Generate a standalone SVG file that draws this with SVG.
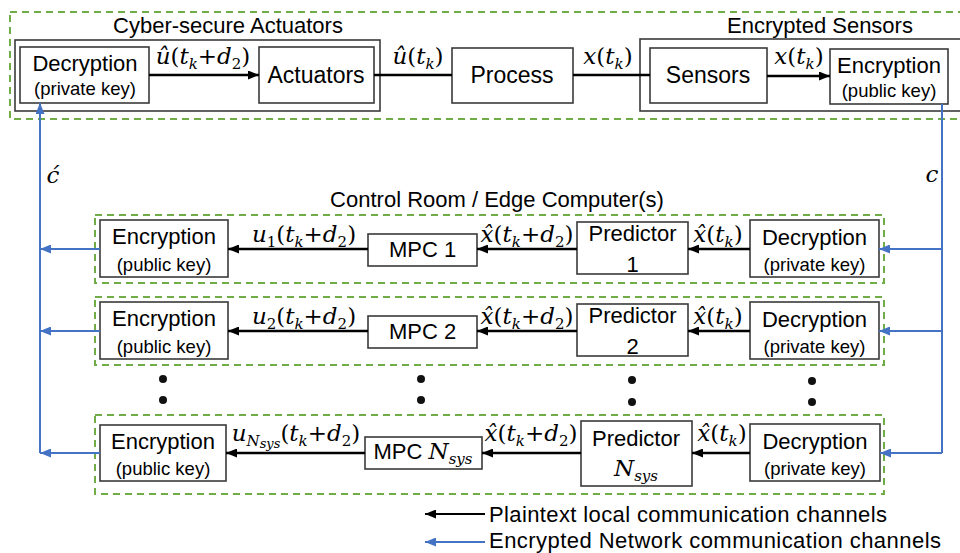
<svg xmlns="http://www.w3.org/2000/svg" width="960" height="553" viewBox="0 0 960 553">
  <style>
    .box { fill: #fff; stroke: #3a3a3a; stroke-width: 1.6; }
    .frame { fill: none; stroke: #3a3a3a; stroke-width: 1.6; }
    .grp { fill: none; stroke: #70AD47; stroke-width: 2; stroke-dasharray: 7 5; }
    .t { font-family: "Liberation Sans", Arial, sans-serif; font-size: 22px; fill: #000; text-anchor: middle; }
    .big { font-size: 23px; }
    .s { font-size: 18.5px; }
    .lg { font-family: "Liberation Sans", Arial, sans-serif; font-size: 22px; fill: #000; }
    .m { font-family: "DejaVu Serif", "Liberation Serif", serif; font-style: italic; font-size: 23px; fill: #000; text-anchor: middle; }
    .sub { font-size: 15px; }
    .n { font-style: normal; }
    .wire { stroke: #000; stroke-width: 2.5; fill: none; }
    .net { stroke: #4472C4; stroke-width: 2; fill: none; }
    .dot { fill: #111; }
  </style>
  <defs>
    <marker id="ab" viewBox="0 0 11 9" refX="11" refY="4.5" markerWidth="11" markerHeight="9" markerUnits="userSpaceOnUse" orient="auto">
      <path d="M0,0 L11,4.5 L0,9 z" fill="#000"/>
    </marker>
    <marker id="bb" viewBox="0 0 11 9" refX="11" refY="4.5" markerWidth="11" markerHeight="9" markerUnits="userSpaceOnUse" orient="auto">
      <path d="M0,0 L11,4.5 L0,9 z" fill="#4472C4"/>
    </marker>
  </defs>

  <!-- plant side: actuators, process, sensors -->
  <rect class="grp" x="10" y="12" width="960" height="107"/>

  <g id="actuator-side">
    <rect class="frame" x="15" y="40" width="365" height="71"/>
    <text class="t" x="228" y="33">Cyber-secure Actuators</text>
  </g>
  <g id="plant-decryption">
    <rect class="box" x="20" y="47" width="129" height="56"/>
    <text class="t" x="85" y="71">Decryption</text>
    <text class="t s" x="85" y="95">(private key)</text>
  </g>
  <g id="actuators">
    <rect class="box" x="259" y="47" width="115" height="56"/>
    <text class="t big" x="316" y="83">Actuators</text>
  </g>
  <g id="process">
    <rect class="box" x="452" y="48" width="121" height="55"/>
    <text class="t big" x="512" y="83">Process</text>
  </g>
  <g id="sensor-side">
    <rect class="frame" x="640" y="39" width="330" height="72"/>
    <text class="t" x="820" y="33">Encrypted Sensors</text>
  </g>
  <g id="sensors">
    <rect class="box" x="650" y="48" width="117" height="55"/>
    <text class="t big" x="708" y="83">Sensors</text>
  </g>
  <g id="plant-encryption">
    <rect class="box" x="830" y="49" width="118" height="55"/>
    <text class="t" x="889" y="73">Encryption</text>
    <text class="t s" x="889" y="97">(public key)</text>
  </g>

  <!-- control room -->
  <text class="t" x="497" y="207">Control Room / Edge Computer(s)</text>

  <!-- controller 1 -->
  <rect class="grp" x="95" y="215" width="789" height="68"/>
  <g id="enc-1">
    <rect class="box" x="100" y="220" width="128" height="57"/>
    <text class="t" x="164" y="244">Encryption</text>
    <text class="t s" x="164" y="271">(public key)</text>
  </g>
  <g id="mpc-1">
    <rect class="box" x="368" y="234" width="109" height="32"/>
    <text class="t" x="422.5" y="257">MPC 1</text>
  </g>
  <g id="pred-1">
    <rect class="box" x="577" y="222" width="111" height="52"/>
    <text class="t" x="632.5" y="241">Predictor</text>
    <text class="t" x="632.5" y="272">1</text>
  </g>
  <g id="dec-1">
    <rect class="box" x="750" y="220" width="129" height="57"/>
    <text class="t" x="814.5" y="245">Decryption</text>
    <text class="t s" x="814.5" y="271">(private key)</text>
  </g>

  <!-- controller 2 -->
  <rect class="grp" x="95" y="297" width="789" height="68"/>
  <g id="enc-2">
    <rect class="box" x="100" y="302" width="128" height="57"/>
    <text class="t" x="164" y="326">Encryption</text>
    <text class="t s" x="164" y="353">(public key)</text>
  </g>
  <g id="mpc-2">
    <rect class="box" x="368" y="316" width="109" height="32"/>
    <text class="t" x="422.5" y="339">MPC 2</text>
  </g>
  <g id="pred-2">
    <rect class="box" x="577" y="304" width="111" height="52"/>
    <text class="t" x="632.5" y="323">Predictor</text>
    <text class="t" x="632.5" y="354">2</text>
  </g>
  <g id="dec-2">
    <rect class="box" x="750" y="302" width="129" height="57"/>
    <text class="t" x="814.5" y="327">Decryption</text>
    <text class="t s" x="814.5" y="353">(private key)</text>
  </g>

  <!-- ellipsis between controllers -->
  <g id="ellipsis">
    <circle class="dot" cx="163" cy="379" r="4"/>
    <circle class="dot" cx="163" cy="400" r="4"/>
    <circle class="dot" cx="421" cy="379" r="4"/>
    <circle class="dot" cx="421" cy="400" r="4"/>
    <circle class="dot" cx="632" cy="380" r="4"/>
    <circle class="dot" cx="632" cy="402" r="4"/>
    <circle class="dot" cx="812" cy="381" r="4"/>
    <circle class="dot" cx="812" cy="402" r="4"/>
  </g>

  <!-- controller N_sys -->
  <rect class="grp" x="95" y="415" width="789" height="79"/>
  <g id="enc-n">
    <rect class="box" x="100" y="425" width="126" height="56"/>
    <text class="t" x="163" y="449">Encryption</text>
    <text class="t s" x="163" y="475">(public key)</text>
  </g>
  <g id="mpc-n">
    <rect class="box" x="365" y="437" width="117" height="32"/>
    <text class="t" x="423" y="459">MPC <tspan class="m">N<tspan class="sub" dy="5">sys</tspan></tspan></text>
  </g>
  <g id="pred-n">
    <rect class="box" x="581" y="421" width="111" height="65"/>
    <text class="t" x="636" y="446">Predictor</text>
    <text class="m" x="636" y="476">N<tspan class="sub" dy="5">sys</tspan></text>
  </g>
  <g id="dec-n">
    <rect class="box" x="750" y="424" width="130" height="57"/>
    <text class="t" x="815" y="449">Decryption</text>
    <text class="t s" x="815" y="475">(private key)</text>
  </g>

  <!-- connectors -->
  <g id="connectors">
    <!-- plaintext local channels -->
    <path class="wire" d="M149,75 H259" marker-end="url(#ab)"/>
    <path class="wire" d="M374,75 H452"/>
    <path class="wire" d="M573,75 H650"/>
    <path class="wire" d="M767,76 H830" marker-end="url(#ab)"/>

    <path class="wire" d="M750,249 H688" marker-end="url(#ab)"/>
    <path class="wire" d="M577,249 H477" marker-end="url(#ab)"/>
    <path class="wire" d="M368,249 H228" marker-end="url(#ab)"/>

    <path class="wire" d="M750,331 H688" marker-end="url(#ab)"/>
    <path class="wire" d="M577,331 H477" marker-end="url(#ab)"/>
    <path class="wire" d="M368,331 H228" marker-end="url(#ab)"/>

    <path class="wire" d="M750,453 H692" marker-end="url(#ab)"/>
    <path class="wire" d="M581,453 H482" marker-end="url(#ab)"/>
    <path class="wire" d="M365,453 H226" marker-end="url(#ab)"/>

    <!-- encrypted network channels -->
    <path class="net" d="M942,104 V453"/>
    <path class="net" d="M942,249 H879" marker-end="url(#bb)"/>
    <path class="net" d="M942,331 H879" marker-end="url(#bb)"/>
    <path class="net" d="M942,453 H880" marker-end="url(#bb)"/>

    <path class="net" d="M40,453 V103" marker-end="url(#bb)"/>
    <path class="net" d="M100,249 H40" marker-end="url(#bb)"/>
    <path class="net" d="M100,331 H40" marker-end="url(#bb)"/>
    <path class="net" d="M100,453 H40" marker-end="url(#bb)"/>
  </g>

  <!-- signal labels -->
  <g id="labels">
    <text class="m" x="203" y="64">û<tspan class="n">(</tspan>t<tspan class="sub" dy="5">k</tspan><tspan class="n" dy="-5">+</tspan>d<tspan class="sub n" dy="5">2</tspan><tspan class="n" dy="-5">)</tspan></text>
    <text class="m" x="418" y="64">û<tspan class="n">(</tspan>t<tspan class="sub" dy="5">k</tspan><tspan class="n" dy="-5">)</tspan></text>
    <text class="m" x="608" y="64">x<tspan class="n">(</tspan>t<tspan class="sub" dy="5">k</tspan><tspan class="n" dy="-5">)</tspan></text>
    <text class="m" x="799" y="64">x<tspan class="n">(</tspan>t<tspan class="sub" dy="5">k</tspan><tspan class="n" dy="-5">)</tspan></text>

    <text class="m" x="53" y="183">ć</text>
    <text class="m" x="932" y="182">c</text>

    <text class="m" x="304" y="242">u<tspan class="sub n" dy="5">1</tspan><tspan class="n" dy="-5">(</tspan>t<tspan class="sub" dy="5">k</tspan><tspan class="n" dy="-5">+</tspan>d<tspan class="sub n" dy="5">2</tspan><tspan class="n" dy="-5">)</tspan></text>
    <text class="m" x="527" y="242">x̂<tspan class="n">(</tspan>t<tspan class="sub" dy="5">k</tspan><tspan class="n" dy="-5">+</tspan>d<tspan class="sub n" dy="5">2</tspan><tspan class="n" dy="-5">)</tspan></text>
    <text class="m" x="718" y="242">x̂<tspan class="n">(</tspan>t<tspan class="sub" dy="5">k</tspan><tspan class="n" dy="-5">)</tspan></text>

    <text class="m" x="304" y="324">u<tspan class="sub n" dy="5">2</tspan><tspan class="n" dy="-5">(</tspan>t<tspan class="sub" dy="5">k</tspan><tspan class="n" dy="-5">+</tspan>d<tspan class="sub n" dy="5">2</tspan><tspan class="n" dy="-5">)</tspan></text>
    <text class="m" x="527" y="324">x̂<tspan class="n">(</tspan>t<tspan class="sub" dy="5">k</tspan><tspan class="n" dy="-5">+</tspan>d<tspan class="sub n" dy="5">2</tspan><tspan class="n" dy="-5">)</tspan></text>
    <text class="m" x="718" y="324">x̂<tspan class="n">(</tspan>t<tspan class="sub" dy="5">k</tspan><tspan class="n" dy="-5">)</tspan></text>

    <text class="m" x="296" y="441">u<tspan class="sub" dy="5">N</tspan><tspan class="sub" style="font-size:13px" dy="2">sys</tspan><tspan class="n" dy="-7">(</tspan>t<tspan class="sub" dy="5">k</tspan><tspan class="n" dy="-5">+</tspan>d<tspan class="sub n" dy="5">2</tspan><tspan class="n" dy="-5">)</tspan></text>
    <text class="m" x="531" y="441">x̂<tspan class="n">(</tspan>t<tspan class="sub" dy="5">k</tspan><tspan class="n" dy="-5">+</tspan>d<tspan class="sub n" dy="5">2</tspan><tspan class="n" dy="-5">)</tspan></text>
    <text class="m" x="722" y="441">x̂<tspan class="n">(</tspan>t<tspan class="sub" dy="5">k</tspan><tspan class="n" dy="-5">)</tspan></text>
  </g>

  <!-- legend -->
  <g id="legend">
    <path class="wire" style="stroke-width:2" d="M485,514 H425" marker-end="url(#ab)"/>
    <text class="lg" x="489" y="522" textLength="398">Plaintext local communication channels</text>
    <path class="net" d="M485,542 H425" marker-end="url(#bb)"/>
    <text class="lg" x="489" y="548" textLength="452">Encrypted Network communication channels</text>
  </g>
</svg>
